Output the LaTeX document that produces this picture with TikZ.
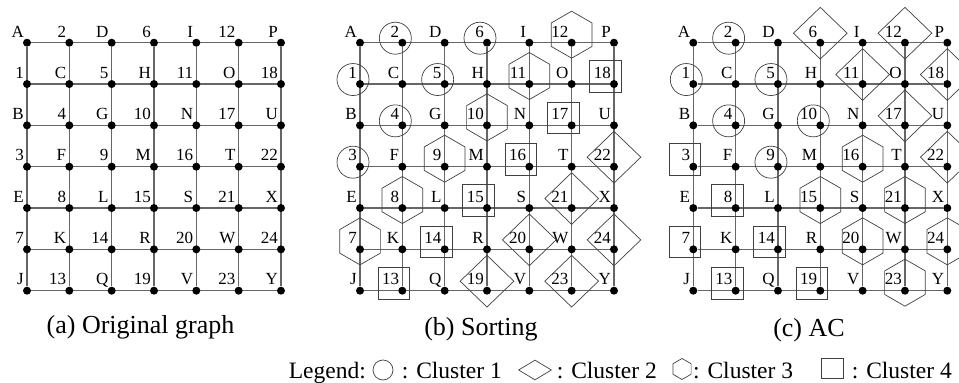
\documentclass[tikz,border=0pt]{standalone}
\usepackage{fontspec}
\setmainfont{Liberation Serif}
\usepackage{tikz}
\usetikzlibrary{shapes.geometric,positioning,backgrounds}
\tikzset{
  gdot/.style={circle, fill=black, inner sep=0pt, minimum size=8pt},
  glabel/.style={inner sep=0pt, text depth=0pt, font=\rmfamily\fontsize{17}{18}\selectfont},
  gline/.style={line width=1.3pt, black!60},
  gcirc/.style={circle, draw=black!75, line width=0.7pt, minimum size=32pt, inner sep=0pt},
  gdiam/.style={diamond, draw=black!75, line width=0.7pt, minimum width=54pt, minimum height=52pt, inner sep=0pt},
  ghex/.style={regular polygon, regular polygon sides=6, regular polygon rotate=30, draw=black!75, line width=0.7pt, minimum size=47pt, inner sep=0pt},
  gsq/.style={rectangle, draw=black!75, line width=0.7pt, minimum size=31.5pt, inner sep=0pt},
  gcap/.style={inner sep=0pt, anchor=base, font=\rmfamily\fontsize{26}{30}\selectfont},
  gleg/.style={inner sep=0pt, anchor=base west, font=\rmfamily\fontsize{23.5}{28}\selectfont}
}

\begin{document}
\begin{tikzpicture}[x=1pt,y=-1pt]
\useasboundingbox (0,0) rectangle (959,383);
% three copies of the 7x7 grid
\foreach \p/\ox in {a/27,b/360,c/693.3}{
  \foreach \row [count=\r] in {{A,2,D,6,I,12,P},{1,C,5,H,11,O,18},{B,4,G,10,N,17,U},
      {3,F,9,M,16,T,22},{E,8,L,15,S,21,X},{7,K,14,R,20,W,24},{J,13,Q,19,V,23,Y}}{
    \foreach \t [count=\c] in \row {
      \node[gdot] (\p\r\c) at ({\ox+(\c-1)*42.33},{42.7+(\r-1)*41.33}) {};
      \node[glabel, above left=5.5pt and 3pt of \p\r\c.center] (\p\r\c-t) {\t};
    }
  }
  \begin{scope}[on background layer]
    \foreach \i in {1,...,7}{
      \draw[gline] (\p\i1) -- (\p\i7);
      \draw[gline] (\p1\i) -- (\p7\i);
    }
  \end{scope}
}
% clusters
\foreach \n in {b12,b14,b21,b23,b32,b41,c12,c21,c23,c32,c34,c43}
  \node[gcirc, xshift=-7pt, yshift=4.5pt] (\n-cl) at (\n) {};
\foreach \n in {b47,b56,b65,b67,b74,b76,c14,c16,c25,c27,c36,c47}
  \node[gdiam, yshift=9.5pt] (\n-cl) at (\n) {};
\foreach \n in {b16,b25,b34,b43,b52,b61,c45,c54,c56,c65,c67,c76}
  \node[ghex, yshift=8pt] (\n-cl) at (\n) {};
\foreach \n in {b27,b36,b45,b54,b63,b72,c41,c52,c61,c63,c72,c74}
  \node[gsq, xshift=-8.5pt, yshift=7.5pt] (\n-cl) at (\n) {};
% captions
\node[gcap] (capa) at (140.5,333) {(a) Original graph};
\node[gcap] (capb) at (481,335) {(b) Sorting};
\node[gcap] (capc) at (809,336) {(c) AC};
% legend
\node[gleg, anchor=base east] (leg) at (366,378) {Legend:};
\node[gcirc, minimum size=20pt] (leg1) at (383,370) {};
\node[gleg] (leg1t) at (401.7,378) {: Cluster 1};
\node[gdiam, minimum width=33pt, minimum height=20pt] (leg2) at (535,370) {};
\node[gleg] (leg2t) at (556.7,378) {: Cluster 2};
\node[ghex, minimum size=21pt] (leg3) at (682,369) {};
\node[gleg] (leg3t) at (693,378) {: Cluster 3};
\node[gsq, minimum width=21.6pt, minimum height=20pt] (leg4) at (832.5,368) {};
\node[gleg] (leg4t) at (851.7,378) {: Cluster 4};
\end{tikzpicture}
\end{document}
